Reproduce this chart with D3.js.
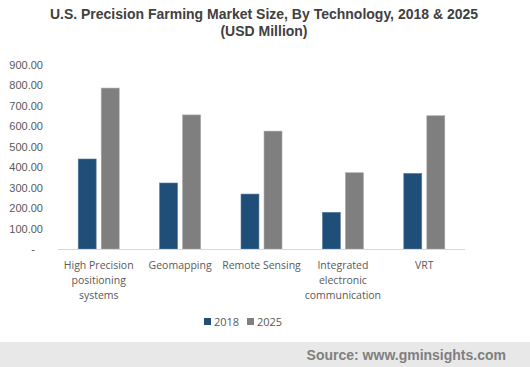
<!DOCTYPE html>
<html>
<head>
    <meta charset="utf-8">
    <title>U.S. Precision Farming Market Size</title>
    <script src="https://cdnjs.cloudflare.com/ajax/libs/d3/7.8.5/d3.min.js"></script>
    <style>
        body { margin: 0; background: #fff; }
        .title { font-family: "Liberation Sans", Arial, sans-serif; font-weight: bold; font-size: 14px; fill: #404040; text-anchor: middle; }
        .axis text { font-family: "Liberation Sans", Arial, sans-serif; font-size: 11px; fill: #595959; }
        .cat-label { font-family: "Open Sans", "Liberation Sans", sans-serif; font-size: 10.5px; fill: #595959; text-anchor: middle; }
        .legend text { font-family: "Open Sans", "Liberation Sans", sans-serif; font-size: 11px; fill: #595959; }
        .source { font-family: "Liberation Sans", Arial, sans-serif; font-weight: bold; font-size: 14px; fill: #7f7f7f; text-anchor: end; }
    </style>
</head>
<body>
    <div id="chart"></div>
    <script>
        // chart data
        const categories = [
            ["High Precision", "positioning", "systems"],
            ["Geomapping"],
            ["Remote Sensing"],
            ["Integrated", "electronic", "communication"],
            ["VRT"]
        ];
        const seriesNames = ["2018", "2025"];
        const values2018 = [439, 322, 268, 179, 369];
        const values2025 = [785, 654, 575, 372, 650];
        const yTicks = [0, 100, 200, 300, 400, 500, 600, 700, 800, 900];
        const colors = ["#1f4e79", "#7f7f7f"];

        const W = 530, H = 367;
        const svg = d3.select("#chart").append("svg")
            .attr("width", W).attr("height", H);

        // title
        svg.append("text").attr("class", "title").attr("x", 264).attr("y", 19)
            .text("U.S. Precision Farming Market Size, By Technology, 2018 & 2025");
        svg.append("text").attr("class", "title").attr("x", 264).attr("y", 36)
            .text("(USD Million)");

        const plot = { left: 58, right: 465, top: 64.5, bottom: 249 };

        const x0 = d3.scaleBand()
            .domain(d3.range(categories.length))
            .range([plot.left, plot.right]);
        const x1 = d3.scaleBand()
            .domain(seriesNames)
            .range([x0.bandwidth() / 2 - 20.5, x0.bandwidth() / 2 + 20.5])
            .paddingInner(0.22);
        const y = d3.scaleLinear().domain([0, 900]).range([plot.bottom, plot.top]);

        // y axis (labels only)
        const yAxis = svg.append("g").attr("class", "axis")
            .attr("transform", "translate(" + (plot.left - 12) + ",0)")
            .call(d3.axisLeft(y).tickValues(yTicks).tickSize(0)
                .tickFormat(d => d === 0 ? "-" : d3.format(".2f")(d)));
        yAxis.select(".domain").remove();
        yAxis.selectAll(".tick text").filter(d => d === 0).attr("dx", "-8px");

        // bars
        const rows = categories.map((c, i) => ({ i, vals: [values2018[i], values2025[i]] }));
        const groups = svg.append("g").selectAll("g").data(rows).join("g")
            .attr("transform", d => "translate(" + x0(d.i) + ",0)");
        groups.selectAll("rect")
            .data(d => d.vals.map((v, k) => ({ key: seriesNames[k], v, k })))
            .join("rect")
            .attr("x", d => x1(d.key))
            .attr("y", d => y(d.v))
            .attr("width", x1.bandwidth())
            .attr("height", d => y(0) - y(d.v))
            .attr("fill", d => colors[d.k])
            .attr("stroke", d => d.k === 0 ? "#5a7fa3" : "#a6a6a6")
            .attr("stroke-width", 0.6);

        // baseline
        svg.append("line")
            .attr("x1", plot.left).attr("x2", plot.right)
            .attr("y1", y(0) + 0.5).attr("y2", y(0) + 0.5)
            .attr("stroke", "#d9d9d9").attr("stroke-width", 1);

        // category labels
        const labels = svg.append("g").selectAll("text").data(categories).join("text")
            .attr("class", "cat-label")
            .attr("x", (d, i) => x0(i) + x0.bandwidth() / 2)
            .attr("y", 269);
        labels.selectAll("tspan").data(d => d).join("tspan")
            .attr("x", function () { return this.parentNode.getAttribute("x"); })
            .attr("dy", (d, i) => i === 0 ? 0 : 15)
            .text(d => d);

        // legend
        const legend = svg.append("g").attr("class", "legend")
            .attr("transform", "translate(204,316)");
        const items = legend.selectAll("g").data(seriesNames).join("g")
            .attr("transform", (d, i) => "translate(" + (i * 43) + ",0)");
        items.append("rect").attr("width", 7).attr("height", 7).attr("y", 2)
            .attr("fill", (d, i) => colors[i]);
        items.append("text").attr("x", 10).attr("y", 9.5).text(d => d);

        // source band
        svg.append("rect").attr("x", 0).attr("y", 342).attr("width", W).attr("height", 25)
            .attr("fill", "#e8e8e8");
        svg.append("text").attr("class", "source").attr("x", 506).attr("y", 360)
            .text("Source: www.gminsights.com");
    </script>
</body>
</html>
